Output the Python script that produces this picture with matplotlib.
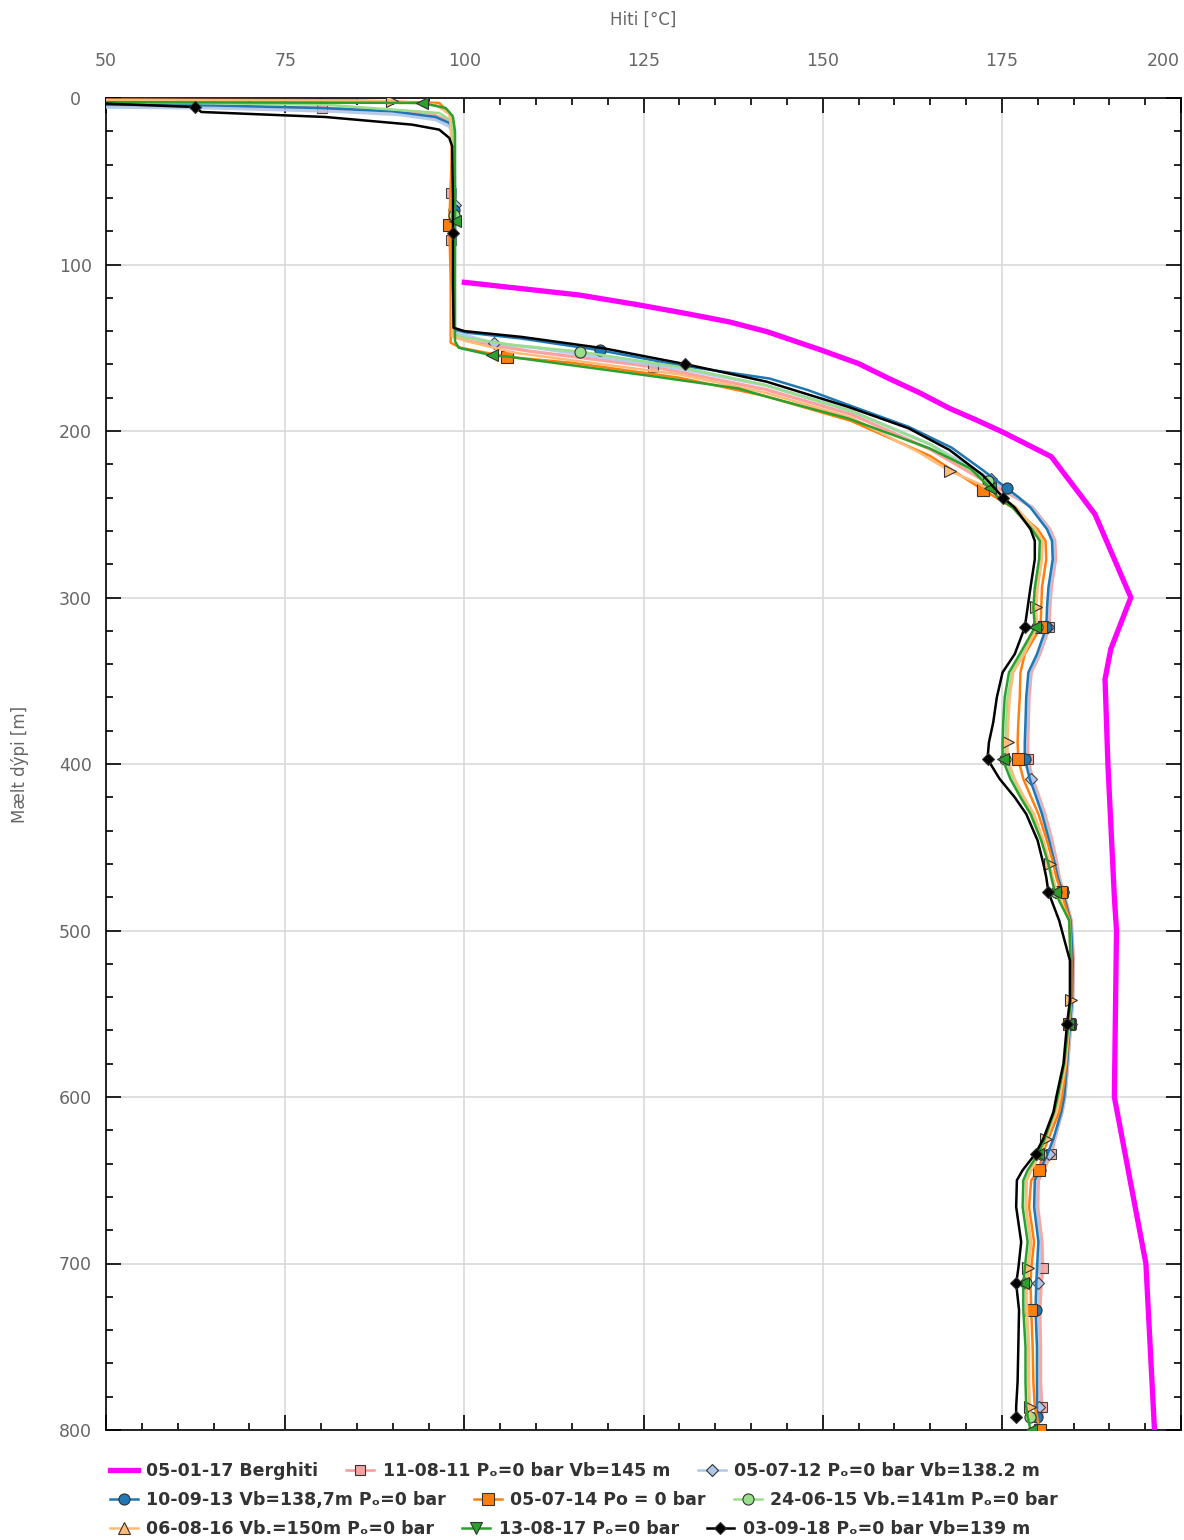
import numpy as np
import matplotlib
matplotlib.use('Agg')
import matplotlib.pyplot as plt
from matplotlib.lines import Line2D
from matplotlib.ticker import MultipleLocator, FuncFormatter

# Berghiti (formation temperature)
d_berg = [110.7, 114.5, 118.3, 124, 129.3, 134.5, 140.3, 151.4, 159.5, 168.4, 177, 186.4, 193.5, 200.4,
          215.4, 250, 300, 331, 349, 400, 480, 500, 600, 700, 800]
t_berg = [100, 108, 116, 124, 130.8, 137, 142.2, 149.8, 155, 159.2, 163.5, 167.7, 171.5, 175,
          181.9, 188, 193, 190.2, 189.4, 189.8, 190.7, 191, 190.7, 195.1, 196.3]

# shared depth grid below 240 m
depth_lower = [240, 246, 259, 266, 277, 294, 306, 318, 334, 345, 360, 375, 387, 397, 409, 420, 430,
               446, 460, 468, 477, 494, 518, 542, 556, 580, 600, 609, 625, 634, 644, 650, 666, 687,
               703, 712, 728, 750, 771, 786, 792, 800]

# 11-08-11
d_up_11 = [4.5, 5, 6, 7.5, 9, 14, 20, 57, 85, 110, 143, 146, 152, 161.4, 175, 190, 211, 231]
t_up_11 = [50, 65, 80.1, 90, 95, 98, 98.4, 98.2, 98.2, 98.3, 98.3, 100.5, 109, 126.3, 142, 154, 165, 173]
t_lo_11 = [177.0, 179.3, 181.7, 182.4, 182.5, 181.9, 181.7, 181.6, 180.3, 179.1, 178.8, 178.7, 178.6, 178.6,
           179.3, 180.2, 181.0, 182.0, 182.7, 183.0, 183.6, 184.7, 185.0, 184.9, 184.6, 184.2, 183.8, 183.4,
           182.4, 181.9, 180.8, 180.1, 180.0, 180.6, 180.7, 180.5, 180.3, 180.4, 180.4, 180.6, 180.6, np.nan]
mk_11 = [6, 57, 85, 161.4, 318, 397, 477, 556, 634, 703, 786]

# 05-07-12
d_up_12 = [5.5, 6, 8, 10, 13, 17, 22, 60, 64, 110, 140, 143, 147.3, 150, 162.5, 172.5, 188, 208, 229]
t_up_12 = [50, 65, 82, 91, 96, 97.9, 98.5, 98.7, 98.7, 98.6, 98.6, 100.5, 104.1, 110, 130, 142, 154, 165, 173.5]
t_lo_12 = [177.2, 179.2, 181.5, 182.2, 182.3, 181.7, 181.5, 181.4, 180.1, 178.9, 178.6, 178.5, 178.4, 178.4,
           179.1, 180.0, 180.8, 181.8, 182.5, 182.9, 183.5, 184.6, 184.9, 184.9, 184.6, 184.2, 183.8, 183.4,
           182.3, 181.6, 180.5, 179.8, 179.7, 180.3, 180.2, 180.0, 180.0, 180.1, 180.1, 180.2, 180.2, np.nan]
mk_12 = [64, 147.3, 229, 318, 409, 477, 556, 634, 712, 786]

# 10-09-13
d_up_13 = [4, 4.4, 6, 8, 11.4, 15, 20, 60, 67, 110, 139, 141, 144.5, 151.5, 160.5, 168.5, 175.5, 185,
           197.5, 210, 224, 234.4]
t_up_13 = [50, 64.3, 80, 90, 96, 97.9, 98.5, 98.6, 98.6, 98.6, 98.6, 100.5, 108, 118.9, 130, 142.6, 148, 154,
           162, 168, 172.5, 175.7]
t_lo_13 = [177.4, 179.0, 181.3, 182.0, 182.1, 181.5, 181.3, 181.2, 179.9, 178.7, 178.4, 178.3, 178.2, 178.2,
           178.9, 179.8, 180.6, 181.6, 182.4, 182.8, 183.5, 184.6, 184.9, 184.8, 184.5, 184.1, 183.7, 183.3,
           182.2, 181.4, 180.3, 179.6, 179.5, 180.1, 179.9, 179.8, 179.7, 179.9, 179.9, 179.9, 179.9, np.nan]
mk_13 = [67, 151.5, 234.4, 318, 397, 477, 556, 644, 728, 792]

# 05-07-14
d_up_14 = [1, 1.4, 3, 9, 15, 40, 76, 110, 147, 150, 155.5, 159, 168, 179, 194, 215, 235.4]
t_up_14 = [50, 84.3, 96.5, 97.9, 98.2, 98.2, 97.9, 98.1, 98.1, 99.5, 106, 115, 130, 142, 154, 165, 172.4]
t_lo_14 = [174.2, 176.5, 180.0, 181.1, 181.2, 180.6, 180.5, 180.4, 178.2, 177.6, 177.5, 177.3, 177.2, 177.3,
           178.0, 179.1, 180.1, 181.3, 182.2, 182.6, 183.3, 184.5, 184.7, 184.7, 184.4, 184.0, 183.4, 183.0,
           181.5, 180.7, 180.2, 179.1, 178.8, 179.5, 179.1, 179.0, 179.1, 179.3, 179.4, 179.6, 179.9, 180.3]
mk_14 = [76, 155.5, 235.4, 318, 397, 477, 556, 644, 728, 800]

# 24-06-15
d_up_15 = [2.5, 4, 9, 14, 40, 70, 110, 142, 144, 148.5, 152.3, 161.5, 172.4, 188, 208, 230]
t_up_15 = [50, 80.6, 96.5, 98.3, 98.6, 98.6, 98.6, 98.6, 100.2, 107, 116.1, 130, 142, 154, 165, 173]
t_lo_15 = [175.0, 177.0, 179.6, 180.6, 180.5, 179.9, 179.7, 179.9, 177.9, 176.4, 175.8, 175.6, 175.5, 175.5,
           176.6, 177.9, 179.3, 180.7, 181.6, 182.0, 182.6, 184.4, 184.6, 184.6, 184.3, 183.8, 183.0, 182.5,
           181.2, 180.4, 179.0, 178.4, 178.3, 179.0, 178.6, 178.4, 178.4, 178.7, 178.7, 178.8, 178.9, np.nan]
mk_15 = [70, 152.3, 230, 318, 397, 477, 556, 634, 712, 792]

# 06-08-16
d_up_16 = [1.2, 1.5, 1.8, 4, 10, 40, 70, 110, 143, 146, 153, 166, 177, 192, 213, 224, 232]
t_up_16 = [50, 80, 89.9, 96, 98, 98.3, 98.3, 98.3, 98.3, 100.3, 107, 130, 142, 154, 163.5, 167.7, 172]
t_lo_16 = [175.0, 177.0, 179.7, 180.7, 180.6, 180.0, 179.8, 179.9, 178.1, 176.6, 176.1, 175.9, 175.8, 175.8,
           176.8, 178.1, 179.5, 180.8, 181.7, 182.1, 182.7, 184.4, 184.6, 184.6, 184.4, 183.9, 183.1, 182.6,
           181.2, 180.4, 179.1, 178.5, 178.4, 179.1, 178.7, 178.5, 178.5, 178.8, 178.8, 178.9, 179.0, np.nan]
mk_16 = [1.8, 224, 306, 387, 460, 542, 625, 703, 786]

# 13-08-17
d_up_17 = [2.5, 2.9, 3.0, 6, 11, 20, 74, 110, 146, 150, 154.6, 155.5, 166.4, 174.4, 179.4, 192.4, 210.4,
           222.4, 234]
t_up_17 = [50, 89, 94.1, 97.4, 98.4, 98.7, 98.7, 98.7, 98.7, 99.2, 103.9, 106.4, 125.1, 138.2, 142.2, 153.5,
           164.9, 170.6, 173.3]
t_lo_17 = [174.5, 176.5, 179.2, 180.3, 180.2, 179.6, 179.4, 179.6, 177.5, 176.0, 175.4, 175.2, 175.1, 175.1,
           176.2, 177.6, 179.0, 180.5, 181.5, 181.9, 182.4, 184.4, 184.6, 184.6, 184.3, 183.7, 182.8, 182.3,
           181.0, 180.1, 178.6, 178.0, 177.9, 178.6, 178.2, 178.0, 178.0, 178.3, 178.3, 178.4, 178.6, 179.0]
mk_17 = [3.0, 74, 154.6, 234, 318, 397, 477, 556, 634, 712, 800]

# 03-09-18
d_up_18 = [3.4, 5.4, 8.4, 11.4, 16, 19, 24, 29, 60, 81, 110, 138, 140, 143.5, 150.3, 159.8, 170.4, 185.4,
           198.4, 211.4, 226.4]
t_up_18 = [50, 62.4, 63.3, 80.6, 92.7, 96.5, 97.9, 98.3, 98.4, 98.4, 98.4, 98.5, 100, 108, 119.4, 130.8,
           142.2, 153.5, 162, 167.7, 172.3]
t_lo_18 = [175.2, 176.8, 179.0, 179.6, 179.6, 179.0, 178.6, 178.2, 176.8, 175.1, 174.3, 173.8, 173.2, 173.0,
           174.7, 176.8, 178.4, 180.0, 180.8, 181.2, 181.5, 183.0, 184.5, 184.5, 184.1, 183.6, 182.6, 182.2,
           180.8, 179.7, 177.9, 177.1, 177.0, 177.7, 177.3, 177.0, 177.4, 177.3, 177.2, 177.0, 177.0, np.nan]
mk_18 = [5.4, 81, 159.8, 240, 318, 397, 477, 556, 634, 712, 792]

labels = ["05-01-17 Berghiti",
          "11-08-11 P\u2092=0 bar Vb=145 m",
          "05-07-12 P\u2092=0 bar Vb=138.2 m",
          "10-09-13 Vb=138,7m P\u2092=0 bar",
          "05-07-14 Po = 0 bar",
          "24-06-15 Vb.=141m P\u2092=0 bar",
          "06-08-16 Vb.=150m P\u2092=0 bar",
          "13-08-17 P\u2092=0 bar",
          "03-09-18 P\u2092=0 bar Vb=139 m"]

series = [
    (d_up_11, t_up_11, t_lo_11, mk_11, dict(color='#ff9896', marker='s', mfc='#f4a3a3', ms=7.5, alpha=0.9, lw=2.4), 's'),
    (d_up_12, t_up_12, t_lo_12, mk_12, dict(color='#aec7e8', marker='D', mfc='#aec7e8', ms=6.5, alpha=0.9, lw=2.4), 'D'),
    (d_up_13, t_up_13, t_lo_13, mk_13, dict(color='#1f77b4', marker='o', mfc='#1f77b4', ms=8, lw=1.8), 'o'),
    (d_up_14, t_up_14, t_lo_14, mk_14, dict(color='#ff7f0e', marker='s', mfc='#ff7f0e', ms=8, lw=1.8), 's'),
    (d_up_15, t_up_15, t_lo_15, mk_15, dict(color='#98df8a', marker='o', mfc='#98df8a', ms=8, lw=1.8), 'o'),
    (d_up_16, t_up_16, t_lo_16, mk_16, dict(color='#ffbb78', marker='>', mfc='#ffbb78', ms=8.5, lw=1.8), '^'),
    (d_up_17, t_up_17, t_lo_17, mk_17, dict(color='#2ca02c', marker='<', mfc='#2ca02c', ms=8.5, lw=1.8), 'v'),
    (d_up_18, t_up_18, t_lo_18, mk_18, dict(color='black', marker='D', mfc='black', ms=6, lw=1.8), 'D'),
]

fig = plt.figure(figsize=(11.84, 15.4), dpi=100)
ax = fig.add_axes([106 / 1184, 1 - 1430 / 1540, 1075 / 1184, 1332 / 1540])

ax.plot(t_berg, d_berg, color='#ff00ff', lw=3.8, zorder=3)

handles = [Line2D([], [], color='#ff00ff', lw=3.8)]
for d_up, t_up, t_lo, mk, st, lmark in series:
    d = np.array(d_up + depth_lower)
    t = np.array(t_up + t_lo)
    idx = [int(np.argmin(np.abs(d - m))) for m in mk]
    ax.plot(t, d, markevery=idx, mec='#333333', mew=0.8, zorder=4, **st)
    handles.append(Line2D([], [], color=st['color'], lw=1.8, marker=lmark, mfc=st['mfc'],
                          mec='#333333', mew=0.8, ms=st['ms']))

ax.set_xlim(50, 200)
ax.set_ylim(800, 0)
ax.xaxis.set_major_locator(MultipleLocator(25))
ax.xaxis.set_minor_locator(MultipleLocator(5))
# last label (200) is drawn separately, right-aligned so it stays inside the figure
ax.xaxis.set_major_formatter(FuncFormatter(lambda v, p: '' if v >= 200 else '%d' % v))
ax.yaxis.set_major_locator(MultipleLocator(100))
ax.yaxis.set_minor_locator(MultipleLocator(20))
ax.grid(True, which='major', color='#d9d9d9', lw=1.2, zorder=0)
ax.set_axisbelow(True)
ax.tick_params(which='both', direction='in', top=True, bottom=True, left=True, right=True,
               labeltop=True, labelbottom=False, colors='black', width=1.2)
ax.tick_params(which='major', length=11)
ax.tick_params(which='minor', length=5)
ax.tick_params(axis='x', which='major', pad=20, labelsize=12.5, labelcolor='#666666')
ax.tick_params(axis='y', which='major', pad=22, labelsize=12.5, labelcolor='#666666')
for sp in ax.spines.values():
    sp.set_linewidth(1.2)

fig.canvas.draw()
for tk in ax.yaxis.get_major_ticks():
    tk.label1.set_horizontalalignment('center')

fig.text(1180 / 1184, 1 - 61 / 1540, '200', ha='right', va='center', fontsize=12.5, color='#666666')
fig.text(643 / 1184, 1 - 20 / 1540, 'Hiti [°C]', ha='center', va='center', fontsize=12, color='#666666')
fig.text(20 / 1184, 1 - 764 / 1540, 'Mælt dýpi [m]', ha='center', va='center', rotation=90,
         fontsize=12, color='#666666')

rows_y = [1471, 1500, 1529]
for r in range(3):
    leg = fig.legend(handles[3 * r:3 * r + 3], labels[3 * r:3 * r + 3], ncol=3, loc='center left',
                     bbox_to_anchor=(110 / 1184, 1 - rows_y[r] / 1540), frameon=False, borderpad=0,
                     borderaxespad=0, handlelength=1.6, handletextpad=0.5, columnspacing=1.6,
                     prop=dict(weight='bold', size=12.5))
    for txt in leg.get_texts():
        txt.set_color('#333333')

fig.savefig('out.png', dpi=100)
